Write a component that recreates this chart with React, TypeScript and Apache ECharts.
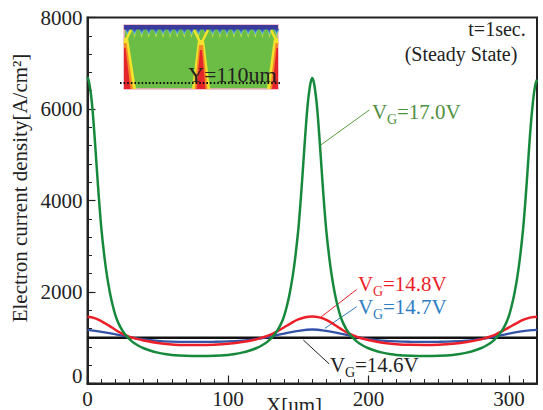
import React, { useEffect, useRef } from "react";
import * as echarts from "echarts";

// tick labels
const xTickLabels = [0, 100, 200, 300];
const yTickLabels = [0, 2000, 4000, 6000, 8000];

// VG = 17.0V  [x(um), J]
const vg170: number[][] = [
  [0, 6700], [1, 6600], [2, 6420], [3, 6170], [4, 5830], [5, 5420], [6, 4980], [7, 4530], [8, 4100], [9, 3700],
  [10, 3340], [12, 2780], [14, 2330], [16, 1980], [18, 1700], [20, 1480], [22, 1320], [25, 1150], [28, 1030],
  [32, 910], [36, 830], [40, 770], [45, 715], [50, 675], [55, 645], [60, 625], [70, 605], [80, 600], [90, 605],
  [100, 625], [105, 645], [110, 675], [115, 715], [120, 770], [124, 830], [128, 910], [132, 1030], [135, 1150],
  [138, 1320], [140, 1480], [142, 1700], [144, 1980], [146, 2330], [148, 2780], [150, 3340], [151, 3700],
  [152, 4100], [153, 4530], [154, 4980], [155, 5420], [156, 5830], [157, 6170], [158, 6420], [159, 6600],
  [160, 6680], [161, 6600], [162, 6420], [163, 6170], [164, 5830], [165, 5420], [166, 4980], [167, 4530],
  [168, 4100], [169, 3700], [170, 3340], [172, 2780], [174, 2330], [176, 1980], [178, 1700], [180, 1480],
  [182, 1320], [185, 1150], [188, 1030], [192, 910], [196, 830], [200, 770], [205, 715], [210, 675], [215, 645],
  [220, 625], [230, 608], [240, 603], [250, 608], [260, 625], [265, 645], [270, 675], [275, 715], [280, 770],
  [284, 830], [288, 910], [292, 1030], [295, 1150], [298, 1320], [300, 1480], [302, 1700], [304, 1980],
  [306, 2330], [308, 2780], [310, 3340], [311, 3700], [312, 4100], [313, 4530], [314, 4980], [315, 5420],
  [316, 5800], [317, 6120], [318, 6380], [319, 6550], [320, 6640],
];

// VG = 14.8V
const vg148: number[][] = [
  [0, 1460], [5, 1430], [10, 1360], [15, 1270], [20, 1170], [25, 1085], [30, 1020], [35, 975], [40, 940],
  [50, 885], [60, 855], [70, 842], [80, 840], [90, 848], [100, 868], [110, 905], [120, 965], [125, 1010],
  [130, 1065], [135, 1140], [140, 1230], [145, 1320], [150, 1400], [155, 1450], [160, 1465], [165, 1445],
  [170, 1390], [175, 1300], [180, 1200], [185, 1110], [190, 1040], [195, 990], [200, 950], [210, 892],
  [220, 860], [230, 845], [240, 842], [250, 848], [260, 868], [270, 905], [280, 965], [285, 1010], [290, 1065],
  [295, 1140], [300, 1225], [305, 1310], [310, 1390], [315, 1440], [320, 1460],
];

// VG = 14.7V
const vg147: number[][] = [
  [0, 1170], [10, 1130], [20, 1075], [30, 1015], [40, 965], [50, 932], [60, 916], [70, 910], [80, 910],
  [90, 912], [100, 920], [110, 938], [120, 970], [130, 1025], [140, 1090], [150, 1150], [160, 1180],
  [170, 1150], [180, 1090], [190, 1025], [200, 970], [210, 938], [220, 920], [230, 912], [240, 910],
  [250, 912], [260, 920], [270, 938], [280, 970], [290, 1025], [300, 1090], [310, 1145], [320, 1170],
];

// VG = 14.6V
const vg146: number[][] = [
  [0, 1000], [320, 1000],
];

const SERIF = "'Liberation Serif', 'Times New Roman', serif";

function vgLabel(x: number, baseline: number, rest: string, color: string): any[] {
  const big = 21;
  const small = 14;
  return [
    { type: "text", x, y: baseline - 0.34 * big, style: { text: "V", fill: color, font: `${big}px ${SERIF}`, align: "left", verticalAlign: "middle" } },
    { type: "text", x: x + 15, y: baseline + 5 - 0.34 * small, style: { text: "G", fill: color, font: `${small}px ${SERIF}`, align: "left", verticalAlign: "middle" } },
    { type: "text", x: x + 25, y: baseline - 0.34 * big, style: { text: rest, fill: color, font: `${big}px ${SERIF}`, align: "left", verticalAlign: "middle" } },
  ];
}

function inset(): any[] {
  const els: any[] = [];
  const X0 = 124, Y0 = 25, W = 154, H = 64;
  const G = "#6cbd45", Y = "#f3e32c", O = "#f28a2a", R = "#e4262b";
  els.push({ type: "rect", shape: { x: X0, y: Y0, width: W, height: H }, style: { fill: G, stroke: "#eeb3c2", lineWidth: 1.5 } });
  // blue top band with drips
  for (let i = 0; i < 22; i++) {
    const x = 127.5 + i * 7.1;
    els.push({ type: "polygon", shape: { points: [[x - 2.2, 29], [x + 2.2, 29], [x, 38]] }, style: { fill: "#c9e24a" } });
    els.push({ type: "polygon", shape: { points: [[x - 2.6, 29], [x + 2.6, 29], [x, 35]] }, style: { fill: "#46a9dc" } });
    els.push({ type: "polygon", shape: { points: [[x - 2.4, 29], [x + 2.4, 29], [x, 32]] }, style: { fill: "#4654b8" } });
  }
  els.push({ type: "rect", shape: { x: X0, y: Y0, width: W, height: 4.5 }, style: { fill: "#3a3c9c" } });
  // hot stripes (Y-shaped)
  const mid = 201;
  [mid].forEach((c) => {
    els.push({ type: "polyline", shape: { points: [[c - 7, 30], [c, 44], [c + 7, 30]] }, style: { stroke: Y, lineWidth: 2.5, fill: null } });
    els.push({ type: "polygon", shape: { points: [[c - 3, 40], [c + 3, 40], [c + 9, 89], [c - 9, 89]] }, style: { fill: Y } });
    els.push({ type: "polygon", shape: { points: [[c - 2, 45], [c + 2, 45], [c + 6.5, 89], [c - 6.5, 89]] }, style: { fill: O } });
    els.push({ type: "polygon", shape: { points: [[c - 1, 50], [c + 1, 50], [c + 4.5, 89], [c - 4.5, 89]] }, style: { fill: R } });
  });
  els.push({ type: "polyline", shape: { points: [[X0, 44], [X0 + 7, 30]] }, style: { stroke: Y, lineWidth: 2.5, fill: null } });
  els.push({ type: "polygon", shape: { points: [[X0, 38], [X0 + 4, 38], [X0 + 12, 89], [X0, 89]] }, style: { fill: Y } });
  els.push({ type: "polygon", shape: { points: [[X0, 43], [X0 + 2.5, 43], [X0 + 9, 89], [X0, 89]] }, style: { fill: O } });
  els.push({ type: "polygon", shape: { points: [[X0, 48], [X0 + 1.5, 48], [X0 + 6.5, 89], [X0, 89]] }, style: { fill: R } });
  const X1 = X0 + W;
  els.push({ type: "polyline", shape: { points: [[X1, 44], [X1 - 7, 30]] }, style: { stroke: Y, lineWidth: 2.5, fill: null } });
  els.push({ type: "polygon", shape: { points: [[X1, 38], [X1 - 4, 38], [X1 - 11, 89], [X1, 89]] }, style: { fill: Y } });
  els.push({ type: "polygon", shape: { points: [[X1, 43], [X1 - 2.5, 43], [X1 - 8, 89], [X1, 89]] }, style: { fill: O } });
  els.push({ type: "polygon", shape: { points: [[X1, 48], [X1 - 1.5, 48], [X1 - 6, 89], [X1, 89]] }, style: { fill: R } });
  // dotted line and label
  els.push({ type: "line", shape: { x1: 120, y1: 83, x2: 281, y2: 83 }, style: { stroke: "#111", lineWidth: 2, lineDash: [1.6, 2] } });
  els.push({ type: "text", x: 188, y: 82 - 0.34 * 22, style: { text: "Y=110um", fill: "#222", font: `22px ${SERIF}`, align: "left", verticalAlign: "middle" } });
  return els;
}

export default function App() {
  const ref = useRef<HTMLDivElement>(null);
  useEffect(() => {
    const chart = echarts.init(ref.current!, null, { renderer: "svg" });
    const axisColor = "#222";
    const option: any = {
      animation: false,
      backgroundColor: "#fff",
      grid: { left: 87.5, right: 6, top: 17.5, bottom: 26.5, show: true, borderColor: axisColor, borderWidth: 2, backgroundColor: "transparent" },
      xAxis: [
        {
          type: "value", min: 0, max: 320, interval: 100,
          axisLine: { show: true, lineStyle: { color: axisColor, width: 2 } },
          axisTick: { show: true, inside: true, length: 8, lineStyle: { color: axisColor, width: 1.2 } },
          axisLabel: {
            show: true, showMaxLabel: false, margin: 5, color: "#222", fontFamily: SERIF, fontSize: 21,
            formatter: (v: number) => (xTickLabels.includes(v) ? String(v) : ""),
          },
          splitLine: { show: false },
        },
        {
          type: "value", min: 0, max: 320, interval: 10, position: "bottom",
          axisLine: { show: false },
          axisTick: { show: true, inside: true, length: 4.5, lineStyle: { color: axisColor, width: 1 } },
          axisLabel: { show: false },
          splitLine: { show: false },
        },
      ],
      yAxis: {
        type: "value", min: 0, max: 8000, interval: 2000,
        axisLine: { show: true, lineStyle: { color: axisColor, width: 2 } },
        axisTick: { show: true, inside: true, length: 8, lineStyle: { color: axisColor, width: 1.2 } },
        minorTick: { show: true, splitNumber: 5, length: 4.5, lineStyle: { color: axisColor, width: 1 } },
        axisLabel: {
          margin: 5, color: "#222", fontFamily: SERIF, fontSize: 21,
          formatter: (v: number) => (yTickLabels.includes(v) ? (v === 0 ? "{z|0}" : String(v)) : ""),
          rich: { z: { fontFamily: SERIF, fontSize: 21, color: "#222", padding: [0, 0, 16, 0] } },
        },
        splitLine: { show: false },
        minorSplitLine: { show: false },
      },
      series: [
        { name: "VG=14.6V", type: "line", data: vg146, showSymbol: false, lineStyle: { color: "#111", width: 2.5 }, z: 2 },
        { name: "VG=14.7V", type: "line", data: vg147, showSymbol: false, smooth: 0.4, lineStyle: { color: "#3352a8", width: 2.3 }, z: 3 },
        { name: "VG=14.8V", type: "line", data: vg148, showSymbol: false, smooth: 0.4, lineStyle: { color: "#ec1f28", width: 2.5 }, z: 4 },
        { name: "VG=17.0V", type: "line", data: vg170, showSymbol: false, smooth: 0.25, lineStyle: { color: "#17893d", width: 2.5 }, z: 5 },
      ],
      graphic: [
        ...inset(),
        { type: "text", x: 497, y: 29, style: { text: "t=1sec.", fill: "#222", font: `20px ${SERIF}`, align: "center", verticalAlign: "middle" } },
        { type: "text", x: 461, y: 54, style: { text: "(Steady State)", fill: "#222", font: `20px ${SERIF}`, align: "center", verticalAlign: "middle" } },
        { type: "text", x: 20, y: 188, rotation: Math.PI / 2, style: { text: "Electron current density[A/cm²]", fill: "#222", font: `21px ${SERIF}`, align: "center", verticalAlign: "middle" } },
        { type: "text", x: 294, y: 394, style: { text: "X[um]", fill: "#222", font: `21px ${SERIF}`, align: "center", verticalAlign: "top" } },
        { type: "line", shape: { x1: 320.7, y1: 145, x2: 369.3, y2: 110 }, style: { stroke: "#5a9a40", lineWidth: 1 } },
        { type: "line", shape: { x1: 321, y1: 317, x2: 356.7, y2: 289.5 }, style: { stroke: "#ec1f28", lineWidth: 1 } },
        { type: "line", shape: { x1: 325, y1: 328.3, x2: 356.7, y2: 306.7 }, style: { stroke: "#2e7dc4", lineWidth: 1 } },
        { type: "line", shape: { x1: 303.3, y1: 340, x2: 329.3, y2: 364 }, style: { stroke: "#222", lineWidth: 1 } },
        ...vgLabel(372, 119.5, "=17.0V", "#4f9040"),
        ...vgLabel(358, 291.5, "=14.8V", "#ec1f28"),
        ...vgLabel(358, 314, "=14.7V", "#2e7dc4"),
        ...vgLabel(330, 372.5, "=14.6V", "#222"),
      ],
    };
    chart.setOption(option);
    return () => chart.dispose();
  }, []);
  return <div ref={ref} style={{ position: "fixed", left: 0, top: 0, width: 543, height: 410 }} />;
}
